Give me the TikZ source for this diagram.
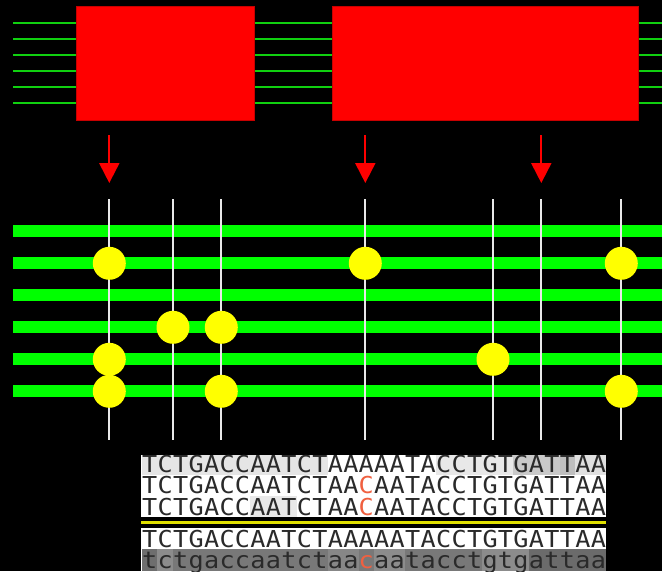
\documentclass[tikz,border=0pt]{standalone}
\usepackage{fontspec}
\usetikzlibrary{arrows.meta}
\newfontfamily\seqfont[FakeStretch=1.08]{DejaVu Sans Mono}

\definecolor{wiregreen}{HTML}{10D010}
\definecolor{busgreen}{HTML}{00FF00}
\definecolor{blockred}{HTML}{FF0000}
\definecolor{blockedge}{HTML}{C80000}
\definecolor{probe}{HTML}{E8E8E8}
\definecolor{bead}{HTML}{FFFF00}
\definecolor{mut}{HTML}{F06040}
\definecolor{ink}{HTML}{2A2A2A}
\definecolor{sepline}{HTML}{E0E000}

\tikzset{
  thinwire/.style={draw=wiregreen, line width=2pt},
  thickwire/.style={draw=busgreen, line width=12pt},
  block/.style={draw=blockedge, fill=blockred, line width=0.8pt, inner sep=0pt},
  downarrow/.style={draw=blockred, line width=2pt,
    -{Triangle[width=20pt,length=20pt]}},
  probeline/.style={draw=probe, line width=2pt},
  beadnode/.style={circle, fill=bead, minimum size=33pt, inner sep=0pt},
  seqchar/.style={anchor=base, inner sep=0pt, text=ink,
    font=\seqfont\fontsize{23.3}{24}\selectfont},
}

% shaded cells of a sequence row: {top}{bottom}{first}{last}{colour}
\newcommand\cellshade[5]{%
  \fill[#5] ({142+15.47*#3},#1) rectangle ({142+15.47*(#4+1)},#2);}

% one sequence row: {row tag}{baseline}{letters}
\newcommand\seqrow[3]{%
  \foreach \ch [count=\k from 0] in {#3}
    {\node[seqchar] (#1-\k) at ({142+15.47*(\k+0.5)},#2) {\ch};}}

\begin{document}
\begin{tikzpicture}[x=1pt,y=-1pt]
  \useasboundingbox (0,0) rectangle (662,571);
  \fill[black] (0,0) rectangle (662,571);

  % thin input wires through the blocks
  \foreach \y [count=\i] in {23.3,39.3,55.3,71.3,87.3,103.3}{
    \coordinate (tw\i a) at (13,\y);
    \coordinate (tw\i b) at (662,\y);
    \draw[thinwire] (tw\i a) -- (tw\i b);
  }

  % blocks
  \node[block, minimum width=177.6pt, minimum height=113.7pt] (blockA) at (165.5,63.2) {};
  \node[block, minimum width=306pt, minimum height=113.7pt] (blockB) at (485.7,63.2) {};

  % arrows
  \foreach \x [count=\i] in {109.3,365.3,541.3}{
    \coordinate (ar\i a) at (\x,135);
    \coordinate (ar\i b) at (\x,183);
    \draw[downarrow] (ar\i a) -- (ar\i b);
  }

  % thick wires
  \foreach \y [count=\i] in {231.3,263.3,295.3,327.3,359.3,391.3}{
    \coordinate (bw\i a) at (13,\y);
    \coordinate (bw\i b) at (662,\y);
    \draw[thickwire] (bw\i a) -- (bw\i b);
  }

  % probe lines
  \foreach \x [count=\i] in {109.3,173,221.3,365.3,493,541.3,621.3}{
    \coordinate (pl\i a) at (\x,199);
    \coordinate (pl\i b) at (\x,440);
    \draw[probeline] (pl\i a) -- (pl\i b);
  }

  % beads
  \node[beadnode] (bd1)  at (109.3,263.3) {};
  \node[beadnode] (bd2)  at (365.3,263.3) {};
  \node[beadnode] (bd3)  at (621.3,263.3) {};
  \node[beadnode] (bd4)  at (173,327.3) {};
  \node[beadnode] (bd5)  at (221.3,327.3) {};
  \node[beadnode] (bd6)  at (109.3,359.3) {};
  \node[beadnode] (bd7)  at (493,359.3) {};
  \node[beadnode] (bd8)  at (109.3,391.3) {};
  \node[beadnode] (bd9)  at (221.3,391.3) {};
  \node[beadnode] (bd10) at (621.3,391.3) {};

  % sequence panel backgrounds
  \fill[white] (141,455) rectangle (606,517);
  \fill[white] (141,528) rectangle (606,571);
  \cellshade{455}{475}{0}{11}{black!10}
  \cellshade{455}{475}{19}{23}{black!9}
  \cellshade{455}{475}{24}{26}{black!21}
  \cellshade{455}{475}{27}{27}{black!25}
  \cellshade{455}{475}{28}{29}{black!12}
  \cellshade{496}{517}{7}{9}{black!9}
  \cellshade{549}{571}{0}{29}{black!53}
  \cellshade{549}{571}{0}{0}{black!57}
  \cellshade{549}{571}{1}{1}{black!45}
  \cellshade{549}{571}{12}{13}{black!47}
  \cellshade{549}{571}{15}{16}{black!45}
  \cellshade{549}{571}{22}{24}{black!45}
  \cellshade{549}{571}{25}{29}{black!58}

  % separator
  \coordinate (sepa) at (141,522.5);
  \coordinate (sepb) at (606,522.5);
  \draw[sepline, line width=2.5pt] (sepa) -- (sepb);

  % sequences
  \seqrow{ra}{472}{T,C,T,G,A,C,C,A,A,T,C,T,A,A,A,A,A,T,A,C,C,T,G,T,G,A,T,T,A,A}
  \seqrow{rb}{493.5}{T,C,T,G,A,C,C,A,A,T,C,T,A,A,{\textcolor{mut}{C}},A,A,T,A,C,C,T,G,T,G,A,T,T,A,A}
  \seqrow{rc}{515}{T,C,T,G,A,C,C,A,A,T,C,T,A,A,{\textcolor{mut}{C}},A,A,T,A,C,C,T,G,T,G,A,T,T,A,A}
  \seqrow{rd}{547.5}{T,C,T,G,A,C,C,A,A,T,C,T,A,A,A,A,A,T,A,C,C,T,G,T,G,A,T,T,A,A}
  \seqrow{re}{568.5}{t,c,t,g,a,c,c,a,a,t,c,t,a,a,{\textcolor{mut}{c}},a,a,t,a,c,c,t,g,t,g,a,t,t,a,a}
\end{tikzpicture}
\end{document}
